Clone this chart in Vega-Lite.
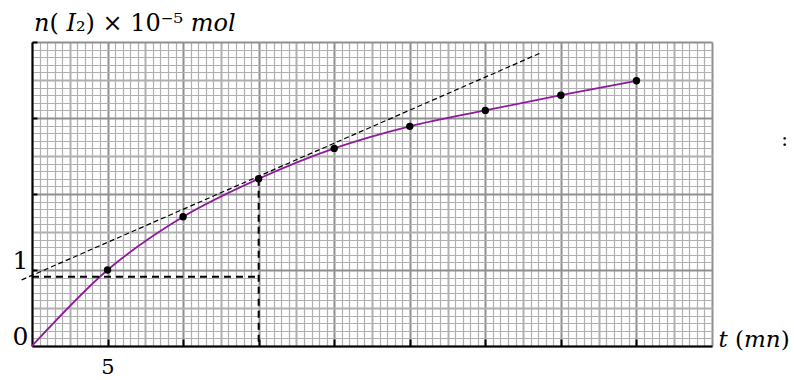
{
  "$schema": "https://vega.github.io/schema/vega-lite/v6.json",
  "autosize": "none",
  "width": 680,
  "height": 304,
  "padding": {"left": 32, "top": 42, "right": 82, "bottom": 34},
  "background": "white",
  "config": {"view": {"stroke": null}, "font": "DejaVu Serif"},
  "title": {
    "text": "𝑛( 𝐼₂) × 10⁻⁵ 𝑚𝑜𝑙",
    "anchor": "start",
    "frame": "group",
    "font": "DejaVu Serif",
    "fontSize": 24,
    "fontWeight": "normal",
    "color": "black",
    "dx": 2,
    "dy": 26,
    "offset": 10
  },
  "datasets": {
    "mesures": [
      {"t": 0, "n": 0, "mesure": false},
      {"t": 5, "n": 1.0, "mesure": true},
      {"t": 10, "n": 1.7, "mesure": true},
      {"t": 15, "n": 2.2, "mesure": true},
      {"t": 20, "n": 2.6, "mesure": true},
      {"t": 25, "n": 2.89, "mesure": true},
      {"t": 30, "n": 3.1, "mesure": true},
      {"t": 35, "n": 3.3, "mesure": true},
      {"t": 40, "n": 3.49, "mesure": true}
    ],
    "tangente": [
      {"t": -0.68, "n": 0.87},
      {"t": 33.7, "n": 3.86}
    ],
    "projection": [
      {"t1": 0, "n1": 0.91, "t2": 15, "n2": 0.91},
      {"t1": 15, "n1": 2.2, "t2": 15, "n2": 0}
    ],
    "note": [
      {"t": 49.8, "n": 2.71, "txt": ":"}
    ]
  },
  "layer": [
    {
      "data": {"name": "mesures"},
      "mark": {"type": "line", "interpolate": "monotone", "color": "#8e1a9c", "strokeWidth": 1.8},
      "encoding": {
        "x": {
          "field": "t", "type": "quantitative",
          "scale": {"domain": [0, 45], "nice": false, "zero": false},
          "axis": {
            "values": [0,0.5,1,1.5,2,2.5,3,3.5,4,4.5,5,5.5,6,6.5,7,7.5,8,8.5,9,9.5,10,10.5,11,11.5,12,12.5,13,13.5,14,14.5,15,15.5,16,16.5,17,17.5,18,18.5,19,19.5,20,20.5,21,21.5,22,22.5,23,23.5,24,24.5,25,25.5,26,26.5,27,27.5,28,28.5,29,29.5,30,30.5,31,31.5,32,32.5,33,33.5,34,34.5,35,35.5,36,36.5,37,37.5,38,38.5,39,39.5,40,40.5,41,41.5,42,42.5,43,43.5,44,44.5,45],
            "tickCount": 200,
            "grid": true,
            "gridColor": {"condition": {"test": "datum.value % 5 === 0", "value": "#8f8f8f"}, "value": "#b0b0b0"},
            "gridWidth": {"condition": {"test": "datum.value % 2.5 === 0", "value": 2}, "value": 1.2},
            "domainColor": "black",
            "domainWidth": 2,
            "ticks": true,
            "tickColor": "black",
            "tickWidth": 2,
            "tickSize": -7,
            "tickOpacity": {"condition": {"test": "datum.value % 5 === 0 && datum.value > 0 && datum.value < 45", "value": 1}, "value": 0},
            "labelExpr": "datum.value === 5 ? '5' : ''",
            "labelOverlap": false,
            "labelFlush": false,
            "labelFont": "DejaVu Serif",
            "labelFontSize": 21,
            "labelColor": "black",
            "labelPadding": 17,
            "title": "𝑡 (𝑚𝑛)",
            "titleFont": "DejaVu Serif",
            "titleFontSize": 23,
            "titleFontWeight": "normal",
            "titleColor": "black",
            "titleAlign": "left",
            "titleBaseline": "alphabetic",
            "titleAnchor": "start",
            "titleX": 686,
            "titleY": 0
          }
        },
        "y": {
          "field": "n", "type": "quantitative",
          "scale": {"domain": [0, 4], "nice": false, "zero": false},
          "axis": {
            "values": [0,0.1,0.2,0.3,0.4,0.5,0.6,0.7,0.8,0.9,1,1.1,1.2,1.3,1.4,1.5,1.6,1.7,1.8,1.9,2,2.1,2.2,2.3,2.4,2.5,2.6,2.7,2.8,2.9,3,3.1,3.2,3.3,3.4,3.5,3.6,3.7,3.8,3.9,4],
            "tickCount": 100,
            "grid": true,
            "gridColor": {"condition": {"test": "datum.value % 1 === 0", "value": "#8f8f8f"}, "value": "#b0b0b0"},
            "gridWidth": {"condition": {"test": "abs(datum.value * 2 - round(datum.value * 2)) < 0.001", "value": 2}, "value": 1.2},
            "domainColor": "black",
            "domainWidth": 2,
            "ticks": true,
            "tickColor": "black",
            "tickWidth": 2,
            "tickSize": -5,
            "tickOpacity": {"condition": {"test": "datum.value % 1 === 0 && datum.value > 0", "value": 1}, "value": 0},
            "labelExpr": "datum.value === 0 ? '0' : (datum.value === 1 ? '1' : '')",
            "labelOverlap": false,
            "labelFlush": false,
            "labelFont": "DejaVu Serif",
            "labelFontSize": 25,
            "labelColor": "black",
            "labelBaseline": "alphabetic",
            "labelOffset": -2,
            "labelPadding": 9,
            "title": null
          }
        }
      }
    },
    {
      "data": {"name": "mesures"},
      "transform": [{"filter": "datum.mesure"}],
      "mark": {"type": "circle", "color": "black", "opacity": 1, "size": 55},
      "encoding": {
        "x": {"field": "t", "type": "quantitative"},
        "y": {"field": "n", "type": "quantitative"}
      }
    },
    {
      "data": {"name": "tangente"},
      "mark": {"type": "line", "color": "black", "strokeWidth": 1.2, "strokeDash": [5, 3]},
      "encoding": {
        "x": {"field": "t", "type": "quantitative"},
        "y": {"field": "n", "type": "quantitative"}
      }
    },
    {
      "data": {"name": "projection"},
      "mark": {"type": "rule", "color": "black", "strokeWidth": 2, "strokeDash": [7, 5]},
      "encoding": {
        "x": {"field": "t1", "type": "quantitative"},
        "y": {"field": "n1", "type": "quantitative"},
        "x2": {"field": "t2"},
        "y2": {"field": "n2"}
      }
    },
    {
      "data": {"name": "note"},
      "mark": {"type": "text", "font": "DejaVu Serif", "fontSize": 20, "color": "black", "align": "center", "baseline": "middle"},
      "encoding": {
        "x": {"field": "t", "type": "quantitative"},
        "y": {"field": "n", "type": "quantitative"},
        "text": {"field": "txt"}
      }
    }
  ]
}
